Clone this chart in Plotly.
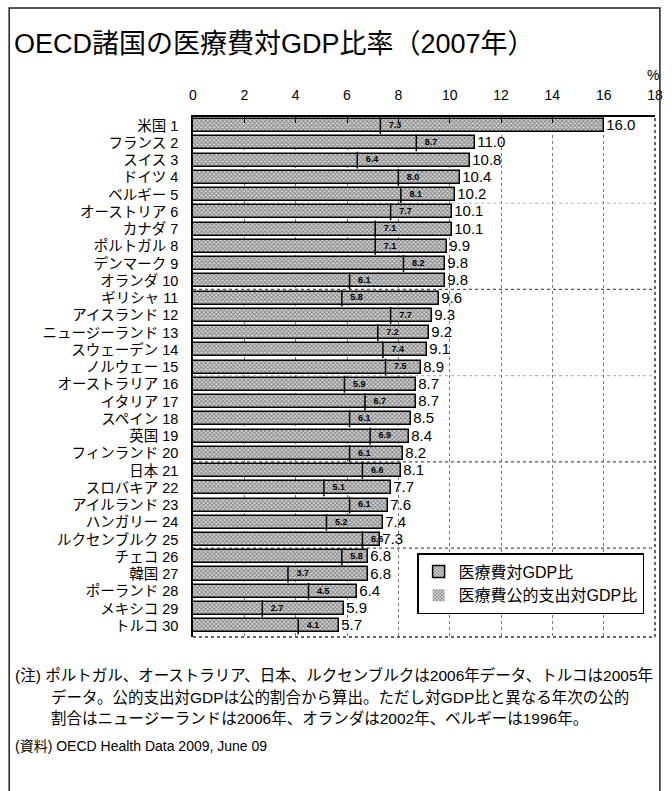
import plotly.graph_objects as go

countries = ["米国", "フランス", "スイス", "ドイツ", "ベルギー", "オーストリア", "カナダ", "ポルトガル",
             "デンマーク", "オランダ", "ギリシャ", "アイスランド", "ニュージーランド", "スウェーデン",
             "ノルウェー", "オーストラリア", "イタリア", "スペイン", "英国", "フィンランド", "日本",
             "スロバキア", "アイルランド", "ハンガリー", "ルクセンブルク", "チェコ", "韓国", "ポーランド",
             "メキシコ", "トルコ"]
total = [16.0, 11.0, 10.8, 10.4, 10.2, 10.1, 10.1, 9.9, 9.8, 9.8, 9.6, 9.3, 9.2, 9.1, 8.9,
         8.7, 8.7, 8.5, 8.4, 8.2, 8.1, 7.7, 7.6, 7.4, 7.3, 6.8, 6.8, 6.4, 5.9, 5.7]
public = [7.3, 8.7, 6.4, 8.0, 8.1, 7.7, 7.1, 7.1, 8.2, 6.1, 5.8, 7.7, 7.2, 7.4, 7.5,
          5.9, 6.7, 6.1, 6.9, 6.1, 6.6, 5.1, 6.1, 5.2, 6.6, 5.8, 3.7, 4.5, 2.7, 4.1]
x_ticks = list(range(0, 19, 2))
series_names = ["医療費対GDP比", "医療費公的支出対GDP比"]
title = "OECD諸国の医療費対GDP比率（2007年）"
notes = [
    "(注) ポルトガル、オーストラリア、日本、ルクセンブルクは2006年データ、トルコは2005年",
    "データ。公的支出対GDPは公的割合から算出。ただし対GDP比と異なる年次の公的",
    "割合はニュージーランドは2006年、オランダは2002年、ベルギーは1996年。",
]
source = "(資料) OECD Health Data 2009, June 09"

W, H = 672, 791
L, R, T, B = 193, 663, 117, 637
FONT = "Liberation Sans, Arial, Noto Sans CJK JP"

def px(xp):
    return (xp - L) / (R - L)

def py(yp):
    return (B - yp) / (B - T)

n = len(countries)
ypos = list(range(n))
ylabels = [f"{c} {i + 1}" for i, c in enumerate(countries)]

pattern = dict(shape="x", fillmode="overlay", bgcolor="#d6d6d6", fgcolor="#2e2e2e",
               size=3, solidity=0.5)

fig = go.Figure()
# public bars (underneath, for legend swatch)
fig.add_trace(go.Bar(
    x=public, y=ypos, orientation="h", width=0.76, name=series_names[1],
    marker=dict(color="#d6d6d6", pattern=pattern, line=dict(width=0)),
    legendrank=2, hoverinfo="skip",
))
# total bars
fig.add_trace(go.Bar(
    x=total, y=ypos, orientation="h", width=0.76, name=series_names[0],
    marker=dict(color="#d6d6d6", pattern=pattern, line=dict(color="black", width=1.5)),
    text=[f"{v:.1f}" for v in total], textposition="outside", constraintext="none",
    textfont=dict(size=15, color="black", family=FONT), cliponaxis=False,
    legendrank=1,
))
# public markers + labels
fig.add_trace(go.Scatter(
    x=public, y=ypos, mode="markers+text", showlegend=False,
    marker=dict(symbol="line-ns", size=12, line=dict(width=1.5, color="black"), color="black"),
    text=[f"{v:.1f}" for v in public], textposition="middle right",
    textfont=dict(size=9, color="black", family=FONT, weight="bold"),
))

shapes = []
# horizontal separators every 5 rows
for k in range(5, n, 5):
    strong = k in (10, 20, 25)
    shapes.append(dict(type="line", xref="paper", yref="y", x0=0, x1=1, y0=k - 0.5, y1=k - 0.5,
                       line=dict(color="#555" if strong else "#bbb", width=1.2, dash="dot"),
                       layer="below"))
# bottom and right dotted borders
shapes.append(dict(type="line", xref="paper", yref="paper", x0=0, x1=1, y0=0, y1=0,
                   line=dict(color="#333", width=1.5, dash="dot")))
shapes.append(dict(type="line", xref="paper", yref="paper", x0=1, x1=1, y0=0, y1=1,
                   line=dict(color="#333", width=1.5, dash="dot")))
# outer frame
shapes.append(dict(type="rect", xref="paper", yref="paper", x0=px(6), x1=px(668), y0=py(8), y1=py(800),
                   line=dict(color="#222", width=1.5), fillcolor="rgba(0,0,0,0)"))

annotations = [
    dict(text="%", xref="paper", yref="paper", x=px(661), y=py(75), showarrow=False,
         font=dict(size=14, family=FONT, color="black"), xanchor="center", yanchor="middle"),
    dict(text=title, xref="paper", yref="paper", x=px(9), y=py(44), showarrow=False,
         font=dict(size=27, family=FONT, color="black"), xanchor="left", yanchor="middle"),
]
note_pos = [(10, 675), (47, 697), (47, 718)]
for (xx, yy), t in zip(note_pos, notes):
    annotations.append(dict(text=t, xref="paper", yref="paper", x=px(xx), y=py(yy), showarrow=False,
                            font=dict(size=15.5, family=FONT, color="black"),
                            xanchor="left", yanchor="middle"))
annotations.append(dict(text=source, xref="paper", yref="paper", x=px(10), y=py(746), showarrow=False,
                        font=dict(size=14, family=FONT, color="black"),
                        xanchor="left", yanchor="middle"))

fig.update_layout(
    width=W, height=H, margin=dict(l=L, r=W - R, t=T, b=H - B),
    paper_bgcolor="white", plot_bgcolor="white",
    barmode="overlay", bargap=0,
    font=dict(family=FONT, color="black"),
    showlegend=True,
    legend=dict(x=px(421), y=py(553), xanchor="left", yanchor="top",
                bgcolor="white", bordercolor="black", borderwidth=1.5,
                font=dict(size=16, family=FONT, color="black"),
                itemwidth=30, tracegroupgap=0),
    shapes=shapes, annotations=annotations,
)
fig.update_xaxes(
    side="top", range=[0, 18], tickvals=x_ticks, ticktext=[str(v) for v in x_ticks],
    showline=True, linecolor="black", linewidth=1.5, ticks="inside", ticklen=6,
    tickcolor="black", tickwidth=1, tickfont=dict(size=14, family=FONT), ticklabelstandoff=10,
    showgrid=True, gridcolor="#777", griddash="dot", gridwidth=1, zeroline=False,
)
fig.update_yaxes(
    range=[n - 0.35, -0.5], tickvals=ypos, ticktext=ylabels, ticks="",
    showline=True, linecolor="black", linewidth=1.5, showgrid=False, zeroline=False,
    tickfont=dict(size=14.5, family=FONT), ticklabelstandoff=10,
)
fig.write_html("out.html")
